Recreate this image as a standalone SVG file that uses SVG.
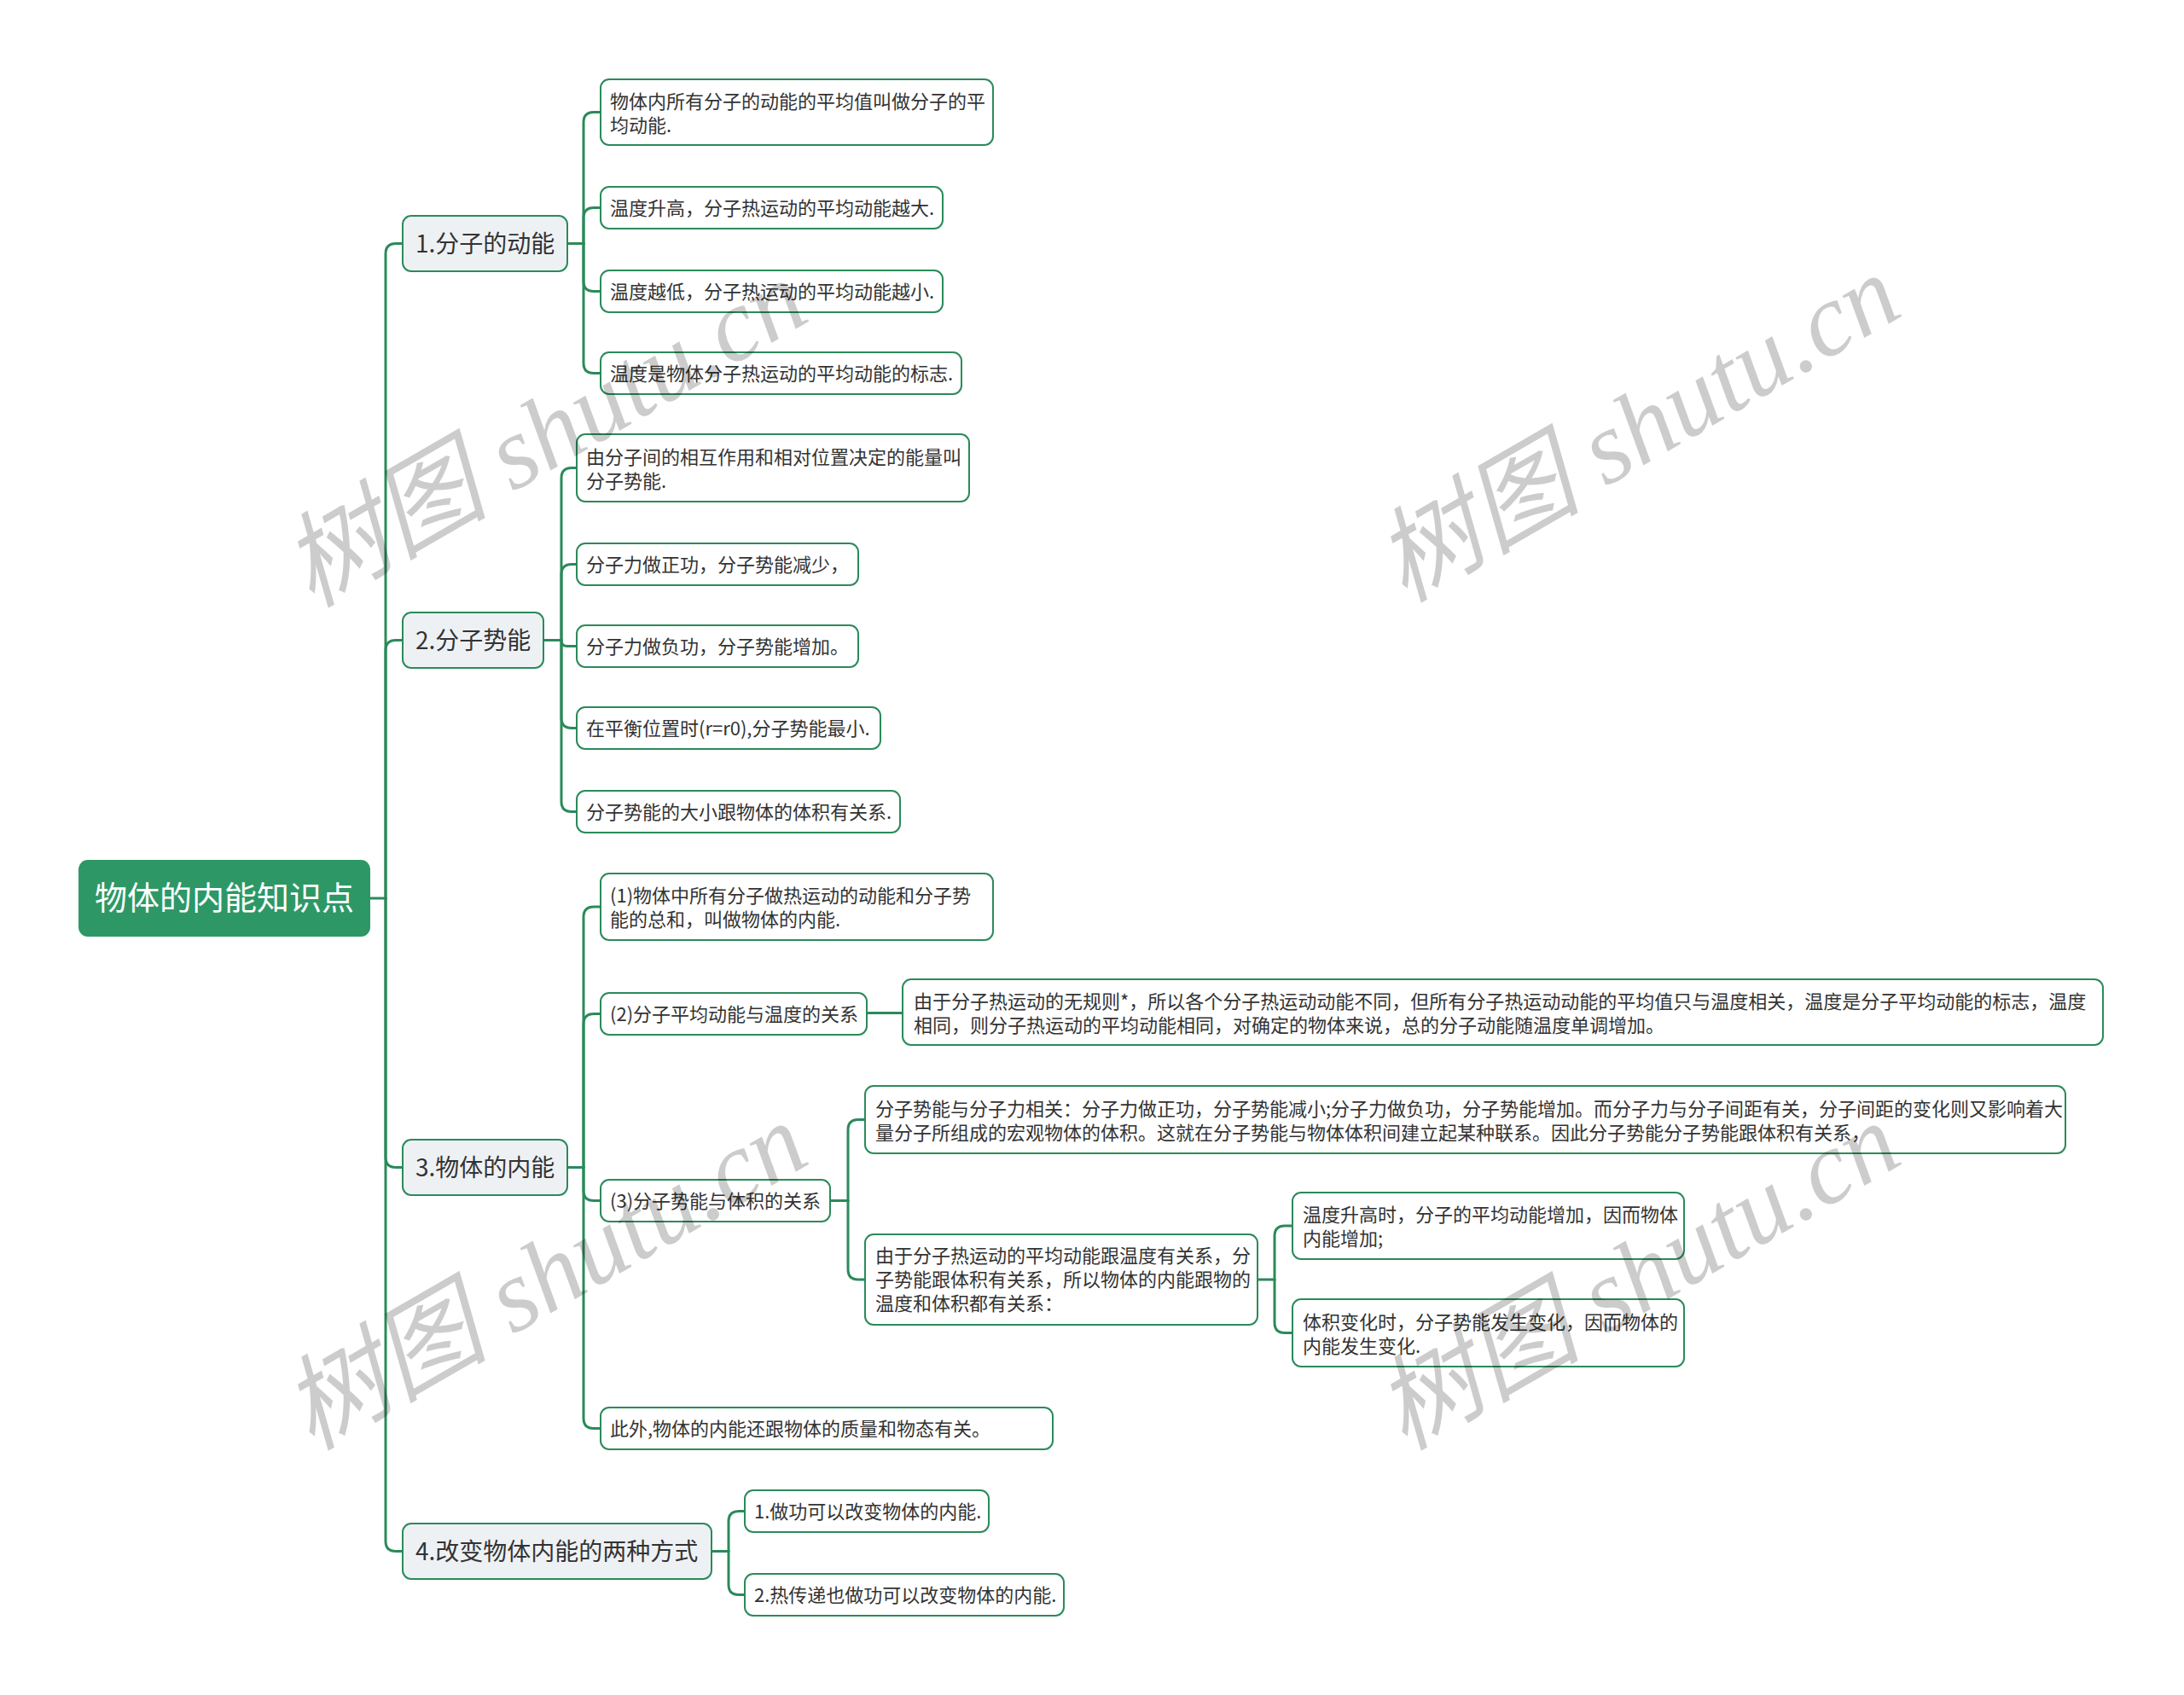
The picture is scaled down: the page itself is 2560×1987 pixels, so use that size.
<svg xmlns="http://www.w3.org/2000/svg" width="2560" height="1987" viewBox="0 0 2560 1987">
<style>
  .bg { fill:#ffffff; }
  .cn path { stroke:#2b8a5a; stroke-width:3; fill:none; stroke-linecap:round; stroke-linejoin:round; }
  .leaf rect { fill:#ffffff; stroke:#2b8a5a; stroke-width:2; }
  .l1 rect { fill:#eef1f4; stroke:#2b8a5a; stroke-width:2; }
  .root rect { fill:#2d9866; stroke:#2d9866; stroke-width:2; }
  text { font-family:"Noto Sans CJK SC","Noto Sans",sans-serif; }
  .leaf text { font-size:22px; fill:#333333; }
  .l1 text { font-size:28px; fill:#333333; }
  .root text { font-size:38px; fill:#ffffff; text-anchor:middle; }
  .wm text { font-family:"Liberation Serif","Noto Sans CJK SC",serif; font-style:italic; font-size:121px; fill:#000000; fill-opacity:0.2; text-anchor:middle; }
</style>
<rect class="bg" x="0" y="0" width="2560" height="1987"/>

<g id="connectors" class="cn">
  <path d="M433,1053 H452"/>
  <path d="M452,1053 V297.5 Q452,285.5 464,285.5 H472"/>
  <path d="M452,1053 V762.5 Q452,750.5 464,750.5 H472"/>
  <path d="M452,1053 V1356.5 Q452,1368.5 464,1368.5 H472"/>
  <path d="M452,1053 V1806.5 Q452,1818.5 464,1818.5 H472"/>

  <path d="M665,285.5 H684"/>
  <path d="M684,285.5 V143.5 Q684,131.5 696,131.5 H704"/>
  <path d="M684,285.5 V255.5 Q684,243.5 696,243.5 H704"/>
  <path d="M684,285.5 V329.5 Q684,341.5 696,341.5 H704"/>
  <path d="M684,285.5 V425.5 Q684,437.5 696,437.5 H704"/>

  <path d="M637,750.5 H658"/>
  <path d="M658,750.5 V560.5 Q658,548.5 670,548.5 H676"/>
  <path d="M658,750.5 V673.5 Q658,661.5 670,661.5 H676"/>
  <path d="M658,750.5 Q658,757.5 665,757.5 H676"/>
  <path d="M658,750.5 V841.5 Q658,853.5 670,853.5 H676"/>
  <path d="M658,750.5 V939.5 Q658,951.5 670,951.5 H676"/>

  <path d="M665,1368.5 H684"/>
  <path d="M684,1368.5 V1075 Q684,1063 696,1063 H704"/>
  <path d="M684,1368.5 V1200.5 Q684,1188.5 696,1188.5 H704"/>
  <path d="M684,1368.5 V1395.5 Q684,1407.5 696,1407.5 H704"/>
  <path d="M684,1368.5 V1662.5 Q684,1674.5 696,1674.5 H704"/>

  <path d="M1016,1187.5 H1058"/>

  <path d="M973,1407.5 H994"/>
  <path d="M994,1407.5 V1324.5 Q994,1312.5 1006,1312.5 H1014"/>
  <path d="M994,1407.5 V1488 Q994,1500 1006,1500 H1014"/>

  <path d="M1474,1500 H1494"/>
  <path d="M1494,1500 V1449 Q1494,1437 1506,1437 H1515"/>
  <path d="M1494,1500 V1550.5 Q1494,1562.5 1506,1562.5 H1515"/>

  <path d="M834,1818.5 H854"/>
  <path d="M854,1818.5 V1783.5 Q854,1771.5 866,1771.5 H873"/>
  <path d="M854,1818.5 V1857.5 Q854,1869.5 866,1869.5 H873"/>
</g>

<g id="root" class="root">
  <rect x="93" y="1009" width="340" height="88" rx="10"/>
  <text x="263" y="1066">物体的内能知识点</text>
</g>

<g id="n1" class="l1">
  <rect x="472" y="253" width="193" height="65" rx="10"/>
  <text x="487" y="295.5">1.分子的动能</text>
</g>
<g id="n2" class="l1">
  <rect x="472" y="718" width="165" height="65" rx="10"/>
  <text x="487" y="760.5">2.分子势能</text>
</g>
<g id="n3" class="l1">
  <rect x="472" y="1336" width="193" height="65" rx="10"/>
  <text x="487" y="1378.5">3.物体的内能</text>
</g>
<g id="n4" class="l1">
  <rect x="472" y="1786" width="362" height="65" rx="10"/>
  <text x="487" y="1828.5">4.改变物体内能的两种方式</text>
</g>

<g id="n1a" class="leaf">
  <rect x="704" y="93" width="460" height="77" rx="10"/>
  <text x="715" y="126.5">物体内所有分子的动能的平均值叫做分子的平</text>
  <text x="715" y="154.5">均动能.</text>
</g>
<g id="n1b" class="leaf">
  <rect x="704" y="219" width="401" height="49" rx="10"/>
  <text x="715" y="251.5">温度升高，分子热运动的平均动能越大.</text>
</g>
<g id="n1c" class="leaf">
  <rect x="704" y="317" width="401" height="49" rx="10"/>
  <text x="715" y="349.5">温度越低，分子热运动的平均动能越小.</text>
</g>
<g id="n1d" class="leaf">
  <rect x="704" y="413" width="423" height="49" rx="10"/>
  <text x="715" y="445.5">温度是物体分子热运动的平均动能的标志.</text>
</g>

<g id="n2a" class="leaf">
  <rect x="676" y="509" width="460" height="79" rx="10"/>
  <text x="687" y="543.5">由分子间的相互作用和相对位置决定的能量叫</text>
  <text x="687" y="571.5">分子势能.</text>
</g>
<g id="n2b" class="leaf">
  <rect x="676" y="637" width="330" height="49" rx="10"/>
  <text x="687" y="669.5">分子力做正功，分子势能减少，</text>
</g>
<g id="n2c" class="leaf">
  <rect x="676" y="733" width="330" height="49" rx="10"/>
  <text x="687" y="765.5">分子力做负功，分子势能增加。</text>
</g>
<g id="n2d" class="leaf">
  <rect x="676" y="829" width="356" height="49" rx="10"/>
  <text x="687" y="861.5">在平衡位置时(r=r0),分子势能最小.</text>
</g>
<g id="n2e" class="leaf">
  <rect x="676" y="927" width="379" height="49" rx="10"/>
  <text x="687" y="959.5">分子势能的大小跟物体的体积有关系.</text>
</g>

<g id="n3a" class="leaf">
  <rect x="704" y="1024" width="460" height="78" rx="10"/>
  <text x="715" y="1058">(1)物体中所有分子做热运动的动能和分子势</text>
  <text x="715" y="1086">能的总和，叫做物体的内能.</text>
</g>
<g id="n3b" class="leaf">
  <rect x="704" y="1164" width="312" height="49" rx="10"/>
  <text x="715" y="1196.5">(2)分子平均动能与温度的关系</text>
</g>
<g id="n3b1" class="leaf">
  <rect x="1058" y="1148" width="1407" height="77" rx="10"/>
  <text x="1071" y="1181.5">由于分子热运动的无规则*，所以各个分子热运动动能不同，但所有分子热运动动能的平均值只与温度相关，温度是分子平均动能的标志，温度</text>
  <text x="1071" y="1209.5">相同，则分子热运动的平均动能相同，对确定的物体来说，总的分子动能随温度单调增加。</text>
</g>
<g id="n3c" class="leaf">
  <rect x="704" y="1383" width="269" height="49" rx="10"/>
  <text x="715" y="1415.5">(3)分子势能与体积的关系</text>
</g>
<g id="n3cA" class="leaf">
  <rect x="1014" y="1273" width="1407" height="79" rx="10"/>
  <text x="1026" y="1307.5">分子势能与分子力相关：分子力做正功，分子势能减小;分子力做负功，分子势能增加。而分子力与分子间距有关，分子间距的变化则又影响着大</text>
  <text x="1026" y="1335.5">量分子所组成的宏观物体的体积。这就在分子势能与物体体积间建立起某种联系。因此分子势能分子势能跟体积有关系，</text>
</g>
<g id="n3cB" class="leaf">
  <rect x="1014" y="1447" width="460" height="106" rx="10"/>
  <text x="1026" y="1480">由于分子热运动的平均动能跟温度有关系，分</text>
  <text x="1026" y="1508">子势能跟体积有关系，所以物体的内能跟物的</text>
  <text x="1026" y="1536">温度和体积都有关系：</text>
</g>
<g id="n3cB1" class="leaf">
  <rect x="1515" y="1398" width="459" height="78" rx="10"/>
  <text x="1527" y="1432">温度升高时，分子的平均动能增加，因而物体</text>
  <text x="1527" y="1460">内能增加;</text>
</g>
<g id="n3cB2" class="leaf">
  <rect x="1515" y="1523" width="459" height="79" rx="10"/>
  <text x="1527" y="1557.5">体积变化时，分子势能发生变化，因而物体的</text>
  <text x="1527" y="1585.5">内能发生变化.</text>
</g>
<g id="n3d" class="leaf">
  <rect x="704" y="1650" width="530" height="49" rx="10"/>
  <text x="715" y="1682.5">此外,物体的内能还跟物体的质量和物态有关。</text>
</g>

<g id="n4a" class="leaf">
  <rect x="873" y="1747" width="286" height="49" rx="10"/>
  <text x="884" y="1779.5">1.做功可以改变物体的内能.</text>
</g>
<g id="n4b" class="leaf">
  <rect x="873" y="1845" width="374" height="49" rx="10"/>
  <text x="884" y="1877.5">2.热传递也做功可以改变物体的内能.</text>
</g>

<g id="watermarks" class="wm">
  <text transform="translate(639,509) rotate(-30)" x="0" y="40">树图 shutu.cn</text>
  <text transform="translate(1920,503) rotate(-30)" x="0" y="40">树图 shutu.cn</text>
  <text transform="translate(639,1497) rotate(-30)" x="0" y="40">树图 shutu.cn</text>
  <text transform="translate(1920,1497) rotate(-30)" x="0" y="40">树图 shutu.cn</text>
</g>
</svg>
